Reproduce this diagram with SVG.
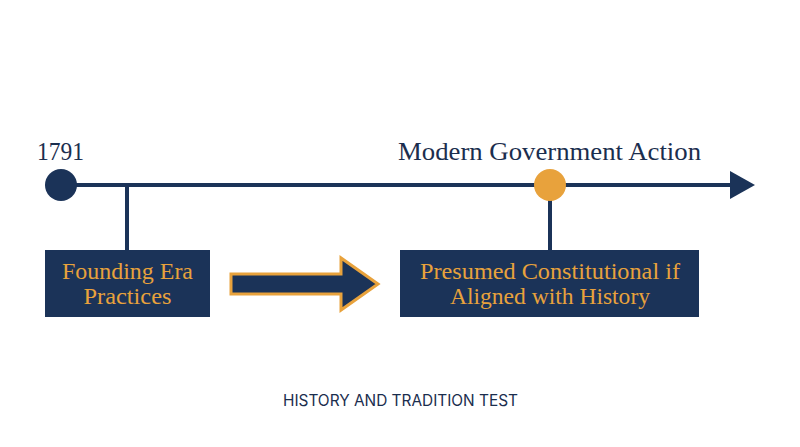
<svg xmlns="http://www.w3.org/2000/svg" width="800" height="447" viewBox="0 0 800 447">
<style>
.serif{font-family:"Liberation Serif","DejaVu Serif",serif;}
.lbl{font-size:26px;fill:#1B2E4E;}
.box{fill:#1B3358;}
.btxt{font-size:22.5px;fill:#E8A23C;text-anchor:middle;}
.ln{stroke:#1B3358;stroke-width:4;fill:none;}
</style>
<rect width="800" height="447" fill="#FFFFFF"/>
<g id="connectors">
<line class="ln" x1="61" y1="185" x2="735" y2="185"/>
<polygon points="730,171 755,185 730,199" fill="#1B3358"/>
<line class="ln" x1="127" y1="185" x2="127" y2="251"/>
<line class="ln" x1="550" y1="185" x2="550" y2="251"/>
<polygon points="231,274 341,274 341,258 378,284 341,310 341,294 231,294" fill="#1B3358" stroke="#E8A23C" stroke-width="3" stroke-linejoin="miter"/>
</g>
<g id="start">
<circle cx="61" cy="185" r="16" fill="#1B3358"/>
<text class="serif lbl" x="37" y="160" textLength="47" lengthAdjust="spacingAndGlyphs">1791</text>
</g>
<g id="modern">
<circle cx="550" cy="185" r="16" fill="#E8A23C"/>
<text class="serif lbl" x="398" y="160" textLength="303" lengthAdjust="spacingAndGlyphs">Modern Government Action</text>
</g>
<g id="founding">
<rect class="box" x="45" y="250" width="165" height="67"/>
<text class="serif btxt" x="127.5" y="279" textLength="131" lengthAdjust="spacingAndGlyphs">Founding Era</text>
<text class="serif btxt" x="127.5" y="304" textLength="88" lengthAdjust="spacingAndGlyphs">Practices</text>
</g>
<g id="presumed">
<rect class="box" x="400" y="250" width="299" height="67"/>
<text class="serif btxt" x="550" y="279" textLength="260" lengthAdjust="spacingAndGlyphs">Presumed Constitutional if</text>
<text class="serif btxt" x="550" y="304" textLength="200" lengthAdjust="spacingAndGlyphs">Aligned with History</text>
</g>
<g id="title">
<text x="400.5" y="406" text-anchor="middle" font-family="Inter,'Liberation Sans',sans-serif" font-size="15.4" fill="#1B2E4E">HISTORY AND TRADITION TEST</text>
</g>
</svg>
